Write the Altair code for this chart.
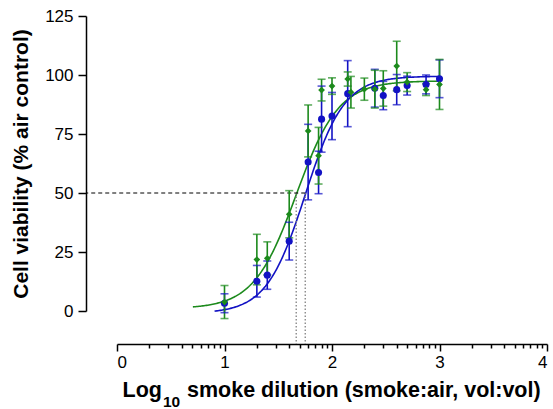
import altair as alt
import numpy as np
import pandas as pd

# ---- data ----
blue_x = [1.0, 1.301, 1.398, 1.602, 1.778, 1.875, 1.903, 2.0, 2.146, 2.398, 2.477, 2.602, 2.699, 2.875, 3.0]
blue_y = [3.3, 12.6, 15.2, 29.6, 63.1, 58.7, 81.3, 82.6, 92.1, 94.4, 91.3, 93.8, 95.5, 96.0, 98.4]
blue_err = [4, 6.7, 6, 8, 16, 9, 14, 10, 14, 8, 6, 6.4, 4, 4, 8]

green_x = [1.0, 1.301, 1.398, 1.602, 1.778, 1.875, 1.903, 2.0, 2.146, 2.176, 2.301, 2.398, 2.477, 2.602, 2.699, 2.875, 3.0]
green_y = [3.8, 21.8, 22.3, 41.0, 76.3, 65.8, 93.6, 95.3, 98.3, 92.7, 94.0, 94.0, 94.3, 103.8, 97.0, 93.8, 96.0]
green_err = [7, 10.7, 7, 10, 11, 12, 4.6, 3.5, 3, 6.7, 4.7, 8, 7.5, 10.5, 4, 2.5, 10.6]

# fitted 4-parameter logistic curves (bottom, top, logEC50, hill, x range)
blue_fit = dict(bottom=-1.0, top=99.5, logec50=1.751, hill=2.4, xmin=0.908, xmax=3.0)
green_fit = dict(bottom=1.0, top=97.5, logec50=1.667, hill=2.2, xmin=0.706, xmax=3.0)

half_level = 50
x_major = [0, 1, 2, 3, 4]
y_ticks = [0, 25, 50, 75, 100, 125]

x_title_parts = ["Log", "10", "smoke dilution (smoke:air, vol:vol)"]
YTITLE = "Cell viability (% air control)"

BLUE = "#1212c4"
GREEN = "#1c8a1c"

W, H = 430, 295
Y_OFF, X_OFF = 31, 33
TITLE_SIZE = 21

# ---- tables ----
pts = pd.concat([
    pd.DataFrame({"x": blue_x, "y": blue_y, "err": blue_err, "s": "blue"}),
    pd.DataFrame({"x": green_x, "y": green_y, "err": green_err, "s": "green"}),
])
pts["lo"] = pts["y"] - pts["err"]
pts["hi"] = pts["y"] + pts["err"]

def curve(p, s):
    xs = np.linspace(p["xmin"], p["xmax"], 200)
    ys = p["bottom"] + (p["top"] - p["bottom"]) / (1 + 10 ** ((p["logec50"] - xs) * p["hill"]))
    return pd.DataFrame({"x": xs, "y": ys, "s": s})

curves = pd.concat([curve(green_fit, "green"), curve(blue_fit, "blue")])
refs = pd.DataFrame({"ec50": [green_fit["logec50"], blue_fit["logec50"]], "level": [half_level, half_level], "s": ["green", "blue"]})

minor = [float(round(d + np.log10(k), 5)) for d in range(4) for k in range(2, 10)]
x_vals = sorted([float(v) for v in x_major] + minor)

FONT = "Liberation Sans"
color = alt.Color("s:N", scale=alt.Scale(domain=["blue", "green"], range=[BLUE, GREEN]), legend=None)

xscale = alt.Scale(domain=[0, 4], nice=False, zero=False)
yscale = alt.Scale(domain=[0, 125], nice=False)

xaxis = alt.Axis(
    values=x_vals, labelExpr="datum.value % 1 == 0 ? format(datum.value, 'd') : ''",
    offset=X_OFF, grid=False, labelOverlap=False, labelFontSize=17, labelFont=FONT, labelColor="black",
    tickSize={"condition": {"test": "datum.value % 1 == 0", "value": 7}, "value": 4},
    tickColor="black", tickWidth=1.5, domainColor="black", domainWidth=1.5, labelPadding=3,
)
yaxis = alt.Axis(
    values=y_ticks, offset=Y_OFF, grid=False, labelFontSize=17, labelFont=FONT, labelColor="black",
    tickSize=8, tickColor="black", tickWidth=1.5, domainColor="black", domainWidth=1.5, labelPadding=5,
    titleFont=FONT, titleFontSize=TITLE_SIZE, titleFontWeight="bold", titleColor="black", titlePadding=13,
)

def X(f):
    return alt.X(f, type="quantitative", scale=xscale, axis=xaxis, title=None)

def Y(f):
    return alt.Y(f, type="quantitative", scale=yscale, axis=yaxis, title=YTITLE)

curve_layer = alt.Chart(curves).mark_line(strokeWidth=1.6, clip=False).encode(
    x=X("x"), y=Y("y"), color=color, detail="s:N")

hline = alt.Chart(refs[refs.s == "blue"]).mark_rule(color="black", strokeWidth=1, strokeDash=[4, 3]).encode(
    x=X("ec50"), x2=alt.value(-Y_OFF), y=Y("level"))
vlines = alt.Chart(refs).mark_rule(color="#808080", strokeWidth=1.3, strokeDash=[1.5, 2]).encode(
    x=X("ec50"), y=Y("level"), y2=alt.value(H + X_OFF))

bars = alt.Chart(pts).mark_rule(strokeWidth=1.6).encode(x=X("x"), y=Y("lo"), y2="hi:Q", color=color)
cap_lo = alt.Chart(pts).mark_tick(orient="horizontal", size=8, thickness=1.6).encode(x=X("x"), y=Y("lo"), color=color)
cap_hi = alt.Chart(pts).mark_tick(orient="horizontal", size=8, thickness=1.6).encode(x=X("x"), y=Y("hi"), color=color)

green_pts = alt.Chart(pts[pts.s == "green"]).mark_point(shape="diamond", filled=True, size=45, opacity=1).encode(
    x=X("x"), y=Y("y"), color=color)
blue_pts = alt.Chart(pts[pts.s == "blue"]).mark_point(shape="circle", filled=True, size=50, opacity=1).encode(
    x=X("x"), y=Y("y"), color=color)

# x-axis title with a real subscript, built from three text pieces
t_main = alt.Chart(pd.DataFrame({"t": [x_title_parts[0]]})).mark_text(
    font=FONT, fontSize=21.5, fontWeight="bold", align="right", baseline="alphabetic", color="black"
).encode(x=alt.value(45), y=alt.value(381), text="t:N")
t_sub = alt.Chart(pd.DataFrame({"t": [x_title_parts[1]]})).mark_text(
    font=FONT, fontSize=15.5, fontWeight="bold", align="left", baseline="alphabetic", color="black"
).encode(x=alt.value(46), y=alt.value(391), text="t:N")
t_rest = alt.Chart(pd.DataFrame({"t": [x_title_parts[2]]})).mark_text(
    font=FONT, fontSize=21.5, fontWeight="bold", align="left", baseline="alphabetic", color="black"
).encode(x=alt.value(70), y=alt.value(381), text="t:N")

chart = alt.layer(
    curve_layer, vlines, hline, bars, cap_lo, cap_hi, blue_pts, green_pts, t_main, t_sub, t_rest
).properties(
    width=W, height=H,
    background="white",
    autosize=alt.AutoSizeParams(type="none"),
    padding={"left": 117, "top": 16, "right": 6, "bottom": 98},
).configure_view(strokeWidth=0, stroke=None).configure_axis(grid=False)

chart.save("out.html", embed_options={"renderer": "svg", "actions": False})
